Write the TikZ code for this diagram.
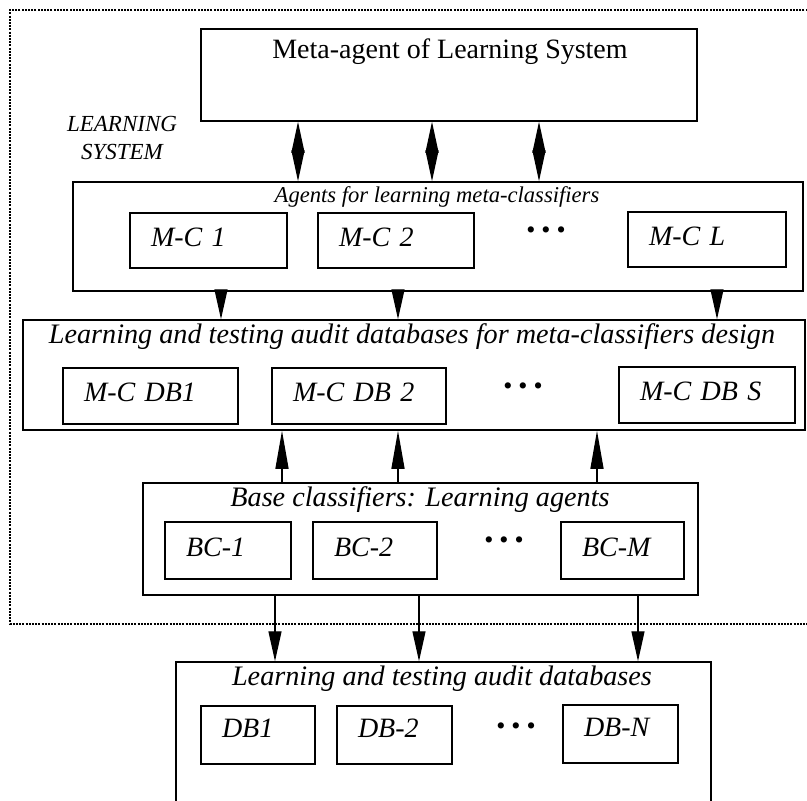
\documentclass[tikz,border=0pt]{standalone}
\usepackage{fontspec}
\setmainfont{Liberation Serif}
\usetikzlibrary{arrows.meta}
\tikzset{
    blk/.style={draw, line width=1.5pt, inner sep=0pt},
    cell/.style={draw, line width=1.4pt, inner xsep=21pt, inner ysep=0pt, text depth=7pt,
        text width=#1, align=left, font=\fontsize{28}{30}\selectfont\itshape},
    ttl/.style={inner sep=0pt, font=\fontsize{28.2}{30}\selectfont\itshape},
    dots/.style={inner sep=0pt, font=\fontsize{26}{26}\selectfont},
    dbl/.style={{Triangle[length=31pt,width=13pt]}-{Triangle[length=31pt,width=13pt]}, line width=1.3pt},
    dn/.style={-{Triangle[length=30pt,width=13pt]}, line width=1.3pt},
    up/.style={-{Triangle[length=38pt,width=13pt]}, line width=1.3pt}
}
\newcommand{\threedots}{•\hspace{6pt}•\hspace{6pt}•}
\begin{document}
\begin{tikzpicture}[x=1pt,y=-1pt]
    \clip (0,0) rectangle (807,801);
    \fill[white] (0,0) rectangle (807,801);
    % learning system border
    \draw[line width=2pt, dash pattern=on 2pt off 1.2pt] (830,10) -- (10,10) -- (10,624) -- (830,624);
    \node[font=\fontsize{23}{28}\selectfont\itshape, align=center, inner sep=0pt] (ls) at (122,138) {LEARNING\\SYSTEM};

    % meta-agent
    \node[blk, minimum width=496pt, minimum height=92pt] (meta) at (449,75) {};
    \node[inner sep=0pt, font=\fontsize{28}{30}\selectfont] (metaT) at (450,52) {Meta-agent of Learning System};

    % agents for meta-classifiers
    \node[blk, minimum width=730pt, minimum height=109pt] (agents) at (438,236.5) {};
    \node[ttl, font=\fontsize{22.6}{25}\selectfont\itshape] (agentsT) at (437,197) {Agents for learning meta-classifiers};
    \node[cell=115pt, minimum height=55pt] (mc1) at (208.5,240.5) {M-C 1};
    \node[cell=114pt, minimum height=55pt] (mc2) at (396,240.5) {M-C 2};
    \node[dots] (mcd) at (546,233) {\threedots};
    \node[cell=116pt, minimum height=55pt] (mcL) at (707,239.5) {M-C L};

    % meta-classifier databases
    \node[blk, minimum width=782pt, minimum height=110pt] (learn) at (414,375) {};
    \node[ttl] (learnT) at (412,337) {Learning and testing audit databases for meta-classifiers design};
    \node[cell=133pt, minimum height=56pt] (mcdb1) at (150.5,396) {M-C DB1};
    \node[cell=132pt, minimum height=56pt] (mcdb2) at (359,396) {M-C DB 2};
    \node[dots] (mcdbd) at (523,389) {\threedots};
    \node[cell=134pt, minimum height=56pt] (mcdbS) at (707,395) {M-C DB S};

    % base classifiers
    \node[blk, minimum width=555pt, minimum height=112pt] (base) at (420.5,539) {};
    \node[ttl] (baseT) at (420,500) {Base classifiers: Learning agents};
    \node[cell=84pt, minimum height=57pt] (bc1) at (228,550.5) {BC-1};
    \node[cell=82pt, minimum height=57pt] (bc2) at (375,550.5) {BC-2};
    \node[dots] (bcd) at (504,543) {\threedots};
    \node[cell=81pt, minimum height=57pt] (bcM) at (622.5,550.5) {BC-M};

    % audit databases
    \node[blk, minimum width=535pt, minimum height=178pt] (db) at (443.5,751) {};
    \node[ttl] (dbT) at (442,679) {Learning and testing audit databases};
    \node[cell=72pt, minimum height=58pt, text depth=13pt] (db1) at (258,735) {DB1};
    \node[cell=73pt, minimum height=58pt, text depth=13pt] (db2) at (394.5,735) {DB-2};
    \node[dots] (dbd) at (516,729) {\threedots};
    \node[cell=73pt, minimum height=58pt, text depth=13pt] (dbN) at (620.5,734) {DB-N};

    % connectors
    \foreach \x in {298,432,539}
        \draw[dbl] (meta.south -| \x,0) -- (agents.north -| \x,0);
    \foreach \x in {221,398,717}
        \draw[dn] (agents.south -| \x,0) -- (learn.north -| \x,0);
    \foreach \x in {282,398,597}
        \draw[up] (base.north -| \x,0) -- (learn.south -| \x,0);
    \foreach \x in {275,419,638}
        \draw[dn] (base.south -| \x,0) -- (db.north -| \x,0);
\end{tikzpicture}
\end{document}
